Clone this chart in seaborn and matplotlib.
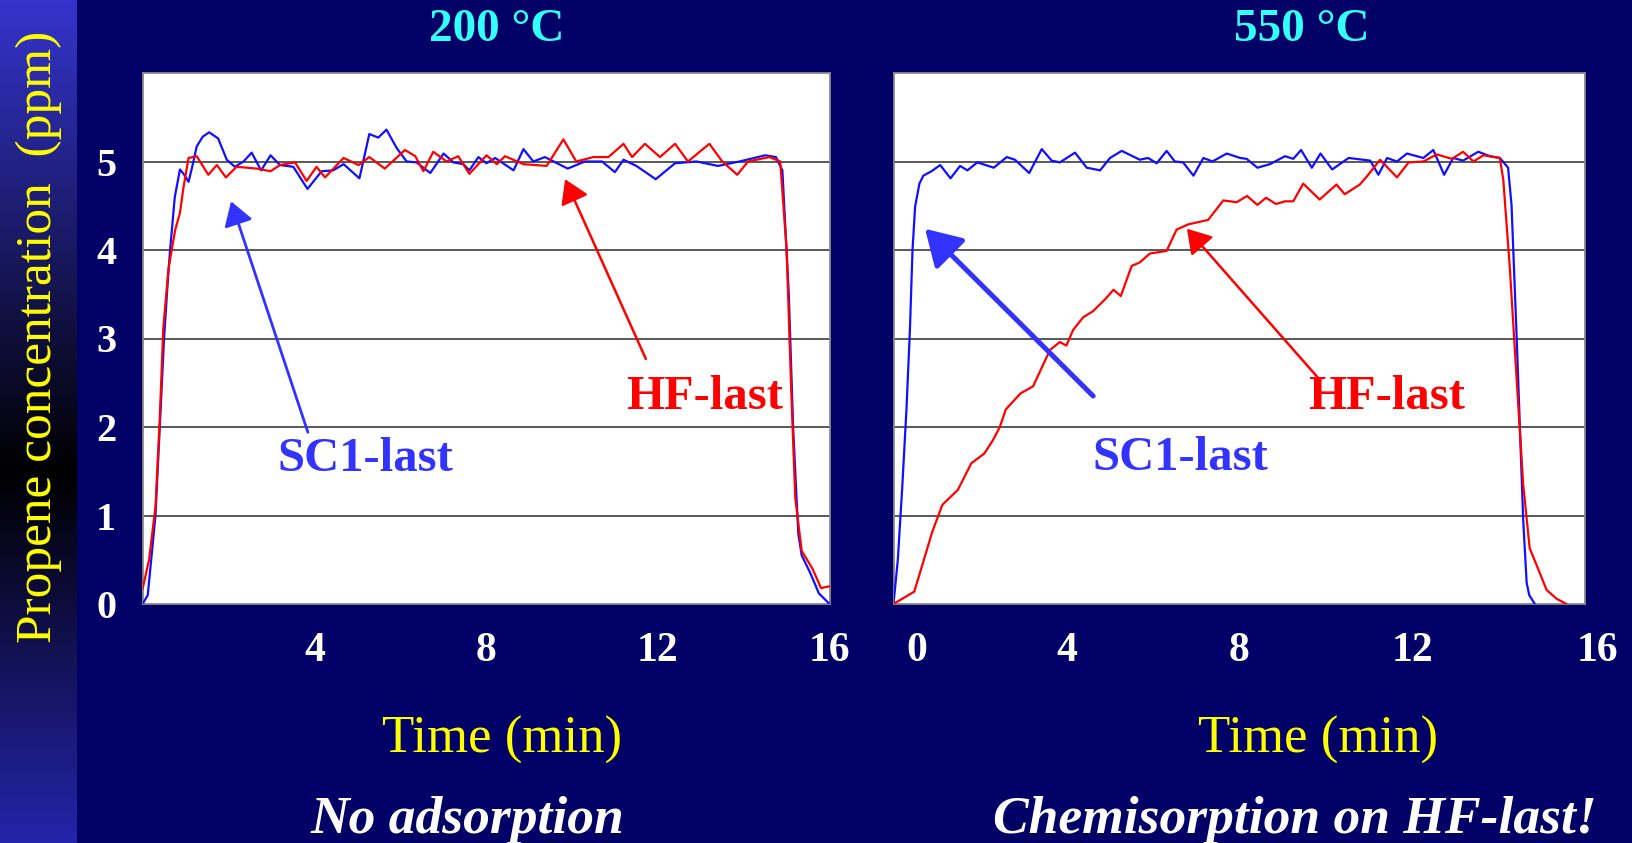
import numpy as np
import pandas as pd
import matplotlib
matplotlib.use("Agg")
import matplotlib.pyplot as plt
import seaborn as sns
from matplotlib.colors import LinearSegmentedColormap
from matplotlib.transforms import ScaledTranslation

# ---------------- data ----------------
# 200 °C panel
t200_sc1 = [0, 0.12, 0.3, 0.4, 0.5, 0.58, 0.64, 0.75, 0.87, 0.97, 1.07, 1.16, 1.26, 1.4, 1.55,
            1.76, 1.96, 2.15, 2.35, 2.54, 2.76, 2.98, 3.2, 3.51, 3.84, 4.17, 4.44, 4.68, 5.05,
            5.28, 5.49, 5.68, 5.92, 6.15, 6.38, 6.7, 7.01, 7.24, 7.47, 7.61, 7.82, 8.01, 8.21,
            8.64, 8.87, 9.1, 9.37, 9.9, 10.3, 10.7, 11.0, 11.2, 11.5, 11.95, 12.4, 12.9, 13.4,
            13.9, 14.5, 14.75, 14.9, 15.05, 15.15, 15.27, 15.35, 15.55, 15.75, 16.0]
c200_sc1 = [0, 0.1, 1.0, 2.0, 3.0, 3.6, 4.0, 4.6, 4.91, 4.85, 4.77, 4.95, 5.17, 5.28, 5.33,
            5.26, 5.02, 4.94, 5.0, 5.10, 4.90, 5.07, 4.96, 4.94, 4.69, 4.89, 4.90, 4.97, 4.81,
            5.31, 5.27, 5.36, 5.15, 5.00, 4.99, 4.87, 5.09, 4.99, 4.97, 4.90, 5.05, 4.98, 5.04,
            4.90, 5.14, 5.00, 5.05, 4.92, 5.0, 5.0, 4.88, 5.02, 4.95, 4.8, 4.98, 5.0, 4.95,
            5.0, 5.07, 5.05, 4.9, 3.5, 2.0, 0.8, 0.55, 0.35, 0.12, 0.0]
t200_hf = [0, 0.15, 0.3, 0.4, 0.48, 0.6, 0.76, 0.87, 0.95, 1.07, 1.26, 1.53, 1.73, 1.94, 2.19,
           2.66, 2.98, 3.2, 3.55, 3.82, 4.05, 4.25, 4.68, 5.03, 5.28, 5.64, 6.11, 6.35, 6.54,
           6.77, 7.08, 7.35, 7.61, 8.01, 8.25, 8.44, 8.87, 9.41, 9.8, 10.1, 10.5, 10.85, 11.2,
           11.4, 11.7, 12.05, 12.4, 12.7, 13.2, 13.5, 13.85, 14.1, 14.6, 14.85, 15.0, 15.1,
           15.2, 15.35, 15.6, 15.8, 16.0]
c200_hf = [0.17, 0.5, 1.1, 2.1, 3.1, 3.78, 4.23, 4.42, 4.7, 5.04, 5.06, 4.85, 4.96, 4.82, 4.94,
           4.92, 4.89, 4.96, 4.99, 4.78, 4.94, 4.82, 5.04, 4.96, 5.05, 4.92, 5.13, 5.06, 4.89,
           5.11, 5.00, 5.06, 4.86, 5.07, 4.97, 5.06, 4.97, 4.95, 5.25, 5.0, 5.05, 5.05, 5.2,
           5.05, 5.2, 5.05, 5.2, 5.0, 5.2, 5.0, 4.85, 5.0, 5.05, 5.0, 4.0, 2.5,
           1.2, 0.6, 0.4, 0.18, 0.2]

# 550 °C panel
t550_sc1 = [0, 0.1, 0.2, 0.3, 0.38, 0.44, 0.5, 0.6, 0.69, 0.88, 1.08, 1.32, 1.54, 1.71, 1.94,
            2.32, 2.62, 2.81, 3.14, 3.43, 3.66, 3.85, 4.2, 4.47, 4.78, 5.01, 5.28, 5.7, 5.89,
            6.09, 6.32, 6.51, 6.7, 6.94, 7.17, 7.38, 7.71, 8.02, 8.17, 8.42, 8.71, 9.06, 9.25,
            9.43, 9.68, 9.88, 10.15, 10.53, 11.03, 11.22, 11.42, 11.65, 11.88, 12.26, 12.49,
            12.74, 12.95, 13.18, 13.53, 13.8, 14.03, 14.22, 14.3, 14.42, 14.57, 14.65, 14.71, 14.84]
c550_sc1 = [0, 0.5, 1.3, 2.2, 3.1, 4.0, 4.49, 4.75, 4.84, 4.89, 4.96, 4.81, 4.95, 4.90, 4.99,
            4.93, 5.05, 5.02, 4.87, 5.14, 5.01, 4.99, 5.10, 4.93, 4.90, 5.04, 5.12, 5.02, 5.04,
            4.98, 5.12, 5.00, 4.99, 4.84, 5.04, 5.00, 5.09, 5.04, 5.03, 4.93, 4.97, 5.06, 5.03,
            5.13, 4.93, 5.09, 4.91, 5.04, 5.01, 4.85, 5.04, 5.0, 5.09, 5.04, 5.13,
            4.85, 5.04, 5.01, 5.11, 5.06, 5.04, 4.93, 4.51, 3.0, 0.95, 0.24, 0.10, 0.0]
t550_hf = [0, 0.48, 0.58, 0.9, 1.13, 1.49, 1.8, 2.1, 2.3, 2.46, 2.6, 2.94, 3.23, 3.62, 3.85,
           4.0, 4.16, 4.39, 4.62, 4.89, 5.09, 5.26, 5.51, 5.7, 5.93, 6.32, 6.55, 6.82, 7.28,
           7.63, 7.94, 8.18, 8.42, 8.62, 8.85, 9.06, 9.25, 9.48, 9.86, 10.25, 10.44, 10.79,
           10.95, 11.26, 11.65, 11.92, 12.26, 12.57, 12.92, 13.18, 13.42, 13.65, 14.03, 14.11,
           14.26, 14.42, 14.57, 14.72, 14.88, 15.11, 15.34, 15.57]
c550_hf = [0, 0.14, 0.3, 0.82, 1.12, 1.29, 1.59, 1.7, 1.85, 2.0, 2.2, 2.38, 2.46, 2.87, 2.96,
           2.92, 3.1, 3.24, 3.31, 3.44, 3.55, 3.48, 3.82, 3.86, 3.96, 3.99, 4.23, 4.29, 4.34,
           4.56, 4.54, 4.61, 4.51, 4.59, 4.52, 4.55, 4.55, 4.75, 4.57, 4.74, 4.63, 4.74,
           4.83, 5.02, 4.82, 4.99, 5.0, 5.08, 5.03, 5.11, 5.0, 5.07, 5.04, 4.79,
           3.80, 2.53, 1.35, 0.63, 0.44, 0.16, 0.06, 0.0]

series_names = ["SC1-last", "HF-last"]
panel_titles = ["200 °C", "550 °C"]
panel_notes = ["No adsorption", "Chemisorption on HF-last!"]
x_ticklabels = ["0", "4", "8", "12", "16"]
y_ticklabels = ["0", "1", "2", "3", "4", "5"]


def frame(t_sc1, c_sc1, t_hf, c_hf):
    return pd.concat([
        pd.DataFrame({"time": t_sc1, "conc": c_sc1, "sample": series_names[0]}),
        pd.DataFrame({"time": t_hf, "conc": c_hf, "sample": series_names[1]}),
    ], ignore_index=True)


df200 = frame(t200_sc1, c200_sc1, t200_hf, c200_hf)
df550 = frame(t550_sc1, c550_sc1, t550_hf, c550_hf)

# ---------------- styling ----------------
sns.set_style("white")
plt.rcParams["font.family"] = ["Liberation Serif", "DejaVu Serif"]

W, H = 1632, 843
NAVY = "#000066"
fig = plt.figure(figsize=(W / 100, H / 100), dpi=100, facecolor=NAVY)


def fx(px):
    return px / W


def fy(py):
    return 1 - py / H


# left gradient band
band = fig.add_axes([0, 0, 77 / W, 1])
cmap = LinearSegmentedColormap.from_list(
    "band", [(0, "#3434cc"), (0.56, "#000000"), (1, "#2424aa")])
band.imshow(np.linspace(0, 1, 256)[:, None], aspect="auto", cmap=cmap)
band.axis("off")

palette = {"SC1-last": "#1010ff", "HF-last": "#ff0000"}
ax_l = fig.add_axes([fx(142.6), fy(604), fx(829.6) - fx(142.6), (604 - 73) / H])
ax_r = fig.add_axes([fx(893.5), fy(604), fx(1585) - fx(893.5), (604 - 73) / H])

for ax, df in [(ax_l, df200), (ax_r, df550)]:
    sns.lineplot(data=df, x="time", y="conc", hue="sample", hue_order=series_names,
                 palette=palette, estimator=None, sort=False, legend=False,
                 linewidth=1.6, ax=ax, zorder=3)
    ax.set_facecolor("white")
    ax.set_xlim(0, 16)
    ax.set_ylim(0, 6)
    ax.set_xlabel("")
    ax.set_ylabel("")
    for yv in range(1, 6):
        ax.axhline(yv, color="#3c3c3c", lw=1.2, zorder=1)
    for s in ax.spines.values():
        s.set_color("#8a8a8a")
        s.set_linewidth(1.3)
    ax.set_xticks(np.arange(0, 17))
    ax.tick_params(axis="x", direction="inout", length=8, width=1, color="black",
                   labelcolor="white", labelsize=30, pad=16)

# x tick labels
lab_l = ["" if (i % 4 or i == 0) else str(i) for i in range(17)]
lab_r = [x_ticklabels[i // 4] if i % 4 == 0 else "" for i in range(17)]
ax_l.set_xticklabels(lab_l, fontweight="bold")
ax_r.set_xticklabels(lab_r, fontweight="bold")
labels_r = ax_r.get_xticklabels()
labels_r[0].set_transform(labels_r[0].get_transform() + ScaledTranslation(0.23, 0, fig.dpi_scale_trans))
labels_r[16].set_transform(labels_r[16].get_transform() + ScaledTranslation(0.12, 0, fig.dpi_scale_trans))

# y ticks
ax_l.set_yticks(range(0, 7))
ax_l.set_yticklabels(y_ticklabels + [""], fontweight="bold")
ax_l.tick_params(axis="y", direction="out", length=7, width=1, color="black",
                 labelcolor="white", labelsize=29, pad=12)
ax_r.set_yticks(range(0, 7))
ax_r.tick_params(axis="y", left=False, labelleft=False)

# annotations
BLUE_T = "#3333ff"
RED_T = "#ff0000"
ax_l.annotate("", xy=(2.06, 4.55), xytext=(3.85, 1.94),
              arrowprops=dict(arrowstyle="-|>,head_length=0.4,head_width=0.25",
                              mutation_scale=36, lw=2, color=BLUE_T,
                              shrinkA=0, shrinkB=0), zorder=4)
ax_l.annotate("", xy=(9.84, 4.80), xytext=(11.72, 2.77),
              arrowprops=dict(arrowstyle="-|>,head_length=0.4,head_width=0.25",
                              mutation_scale=36, lw=1.8, color=RED_T,
                              shrinkA=0, shrinkB=0), zorder=4)
ax_r.annotate("", xy=(0.73, 4.24), xytext=(4.62, 2.35),
              arrowprops=dict(arrowstyle="-|>,head_length=0.4,head_width=0.24",
                              mutation_scale=54, lw=3.6, color=BLUE_T,
                              shrinkA=0, shrinkB=0), zorder=4)
ax_r.annotate("", xy=(6.79, 4.24), xytext=(9.87, 2.53),
              arrowprops=dict(arrowstyle="-|>,head_length=0.4,head_width=0.25",
                              mutation_scale=36, lw=1.8, color=RED_T,
                              shrinkA=0, shrinkB=0), zorder=4)

txt_kw = dict(fontsize=35, fontweight="bold", ha="center", va="center", zorder=5)
ax_l.text(5.18, 1.64, series_names[0], color=BLUE_T, **txt_kw)
ax_l.text(13.08, 2.34, series_names[1], color=RED_T, **txt_kw)
ax_r.text(6.63, 1.65, series_names[0], color=BLUE_T, **txt_kw)
ax_r.text(11.42, 2.34, series_names[1], color=RED_T, **txt_kw)

# figure texts
CYAN = "#33ffff"
YELLOW = "#ffff00"
fig.text(fx(497), fy(30), panel_titles[0], color=CYAN, fontsize=34, fontweight="bold",
         ha="center", va="center")
fig.text(fx(1302), fy(30), panel_titles[1], color=CYAN, fontsize=34, fontweight="bold",
         ha="center", va="center")
fig.text(fx(502), fy(740), "Time (min)", color=YELLOW, fontsize=38, ha="center", va="center")
fig.text(fx(1318), fy(740), "Time (min)", color=YELLOW, fontsize=38, ha="center", va="center")
fig.text(fx(467), fy(820), panel_notes[0], color="white", fontsize=38.5, fontweight="bold",
         fontstyle="italic", ha="center", va="center")
fig.text(fx(1295), fy(820), panel_notes[1], color="white", fontsize=38.5, fontweight="bold",
         fontstyle="italic", ha="center", va="center")
fig.text(fx(39), fy(337), "Propene concentration  (ppm)", color=YELLOW, fontsize=37,
         rotation=90, ha="center", va="center")

fig.savefig("out.png", dpi=100, facecolor=NAVY)
